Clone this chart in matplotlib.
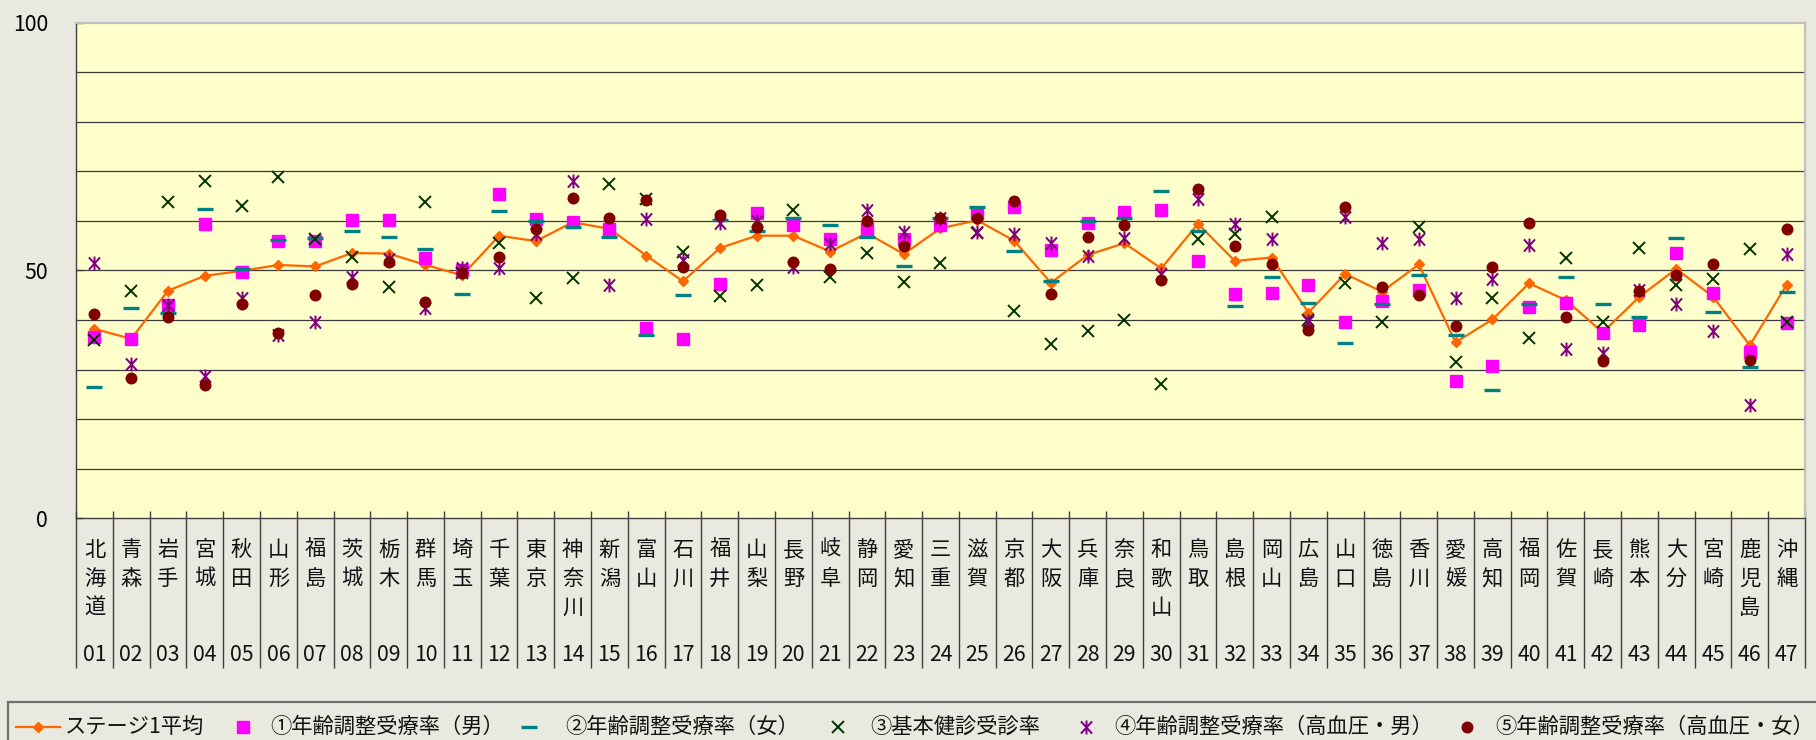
import numpy as np
import matplotlib
matplotlib.use("Agg")
import matplotlib.pyplot as plt
from matplotlib.lines import Line2D
from matplotlib.path import Path
from matplotlib.patches import Rectangle
import matplotlib.transforms as mtransforms

plt.rcParams['font.family'] = ['Noto Sans CJK JP', 'DejaVu Sans']

# ---------------- data ----------------
prefectures = ['北海道', '青森', '岩手', '宮城', '秋田', '山形', '福島', '茨城', '栃木', '群馬',
               '埼玉', '千葉', '東京', '神奈川', '新潟', '富山', '石川', '福井', '山梨', '長野',
               '岐阜', '静岡', '愛知', '三重', '滋賀', '京都', '大阪', '兵庫', '奈良', '和歌山',
               '鳥取', '島根', '岡山', '広島', '山口', '徳島', '香川', '愛媛', '高知', '福岡',
               '佐賀', '長崎', '熊本', '大分', '宮崎', '鹿児島', '沖縄']
codes = ['%02d' % (k + 1) for k in range(len(prefectures))]

stage1_avg = [38.2, 36.2, 45.9, 48.9, 49.9, 51.1, 50.8, 53.5, 53.4, 51.1,
              49.0, 57.0, 55.9, 59.7, 58.4, 53.0, 47.8, 54.5, 57.0, 57.0,
              53.8, 57.5, 53.3, 58.5, 60.1, 56.0, 47.5, 53.1, 55.5, 50.4,
              59.4, 51.9, 52.6, 41.5, 49.3, 45.7, 51.2, 35.5, 40.1, 47.4,
              44.0, 37.5, 44.7, 50.3, 44.7, 34.9, 47.1]
rate_male = [36.6, 36.2, 43.0, 59.3, 49.7, 55.9, 55.9, 60.1, 60.1, 52.6,
             50.0, 65.5, 60.4, 59.8, 58.4, 38.4, 36.2, 47.2, 61.6, 59.2,
             56.3, 58.3, 56.3, 59.2, 61.6, 62.7, 54.1, 59.5, 61.7, 62.2,
             51.9, 45.2, 45.5, 47.1, 39.6, 43.8, 46.0, 27.6, 30.8, 42.6,
             43.4, 37.4, 38.9, 53.6, 45.5, 33.5, 39.4]
rate_female = [26.5, 42.4, 41.4, 62.4, 50.3, 56.1, 56.5, 58.0, 56.8, 54.3,
               45.3, 62.0, 59.9, 58.7, 56.8, 36.9, 45.0, 60.2, 58.0, 60.5,
               59.1, 56.8, 50.9, 60.5, 62.8, 53.9, 47.9, 59.9, 60.5, 66.1,
               58.0, 42.8, 48.7, 43.5, 35.4, 43.2, 49.1, 36.9, 25.8, 43.2,
               48.7, 43.2, 40.6, 56.5, 41.6, 30.6, 45.7]
checkup_rate = [36.0, 45.9, 63.7, 68.1, 62.9, 68.9, 56.3, 52.7, 46.7, 63.7,
                49.5, 55.5, 44.5, 48.5, 67.4, 64.4, 53.8, 44.9, 47.0, 62.1,
                48.7, 53.6, 47.7, 51.4, 57.6, 41.8, 35.2, 37.8, 39.9, 27.1,
                56.3, 57.4, 60.7, 39.9, 47.4, 39.6, 58.7, 31.5, 44.5, 36.4,
                52.6, 39.6, 54.5, 47.0, 48.2, 54.4, 39.6]
htn_male = [51.5, 31.1, 43.0, 28.7, 44.5, 37.0, 39.6, 48.7, 52.2, 42.5,
            50.4, 50.4, 57.3, 68.1, 47.0, 60.3, 52.1, 59.5, 59.9, 50.7,
            55.3, 62.2, 57.8, 60.5, 57.8, 57.4, 55.6, 53.0, 56.6, 49.3,
            64.4, 59.4, 56.3, 39.8, 60.7, 55.5, 56.3, 44.5, 48.2, 55.1,
            34.1, 33.4, 46.0, 43.3, 37.8, 22.9, 53.3]
htn_female = [41.3, 28.3, 40.6, 26.9, 43.2, 37.3, 45.0, 47.3, 51.6, 43.6,
              49.5, 52.8, 58.4, 64.6, 60.5, 64.3, 50.6, 61.2, 58.7, 51.6,
              50.3, 59.9, 55.0, 60.5, 60.5, 63.9, 45.3, 56.8, 59.1, 48.0,
              66.5, 55.0, 51.3, 38.0, 62.8, 46.6, 45.0, 38.8, 50.6, 59.5,
              40.6, 31.7, 45.8, 49.1, 51.3, 32.0, 58.3]

series_labels = ['ステージ1平均', '①年齢調整受療率（男）', '②年齢調整受療率（女）',
                 '③基本健診受診率', '④年齢調整受療率（高血圧・男）', '⑤年齢調整受療率（高血圧・女）']
y_ticks = [0, 50, 100]

# ---------------- styling ----------------
W, H = 1816, 740
FIG_BG = '#E9E9DF'
PLOT_BG = '#FFFFCC'
FS = 15.3

star_path = Path([(-1, -1.1), (1, 1.1), (-1, 1.1), (1, -1.1), (0, -1.25), (0, 1.25)],
                 [Path.MOVETO, Path.LINETO, Path.MOVETO, Path.LINETO, Path.MOVETO, Path.LINETO])

styles = [
    dict(color='#FF6600', lw=1.6, marker='D', ms=4.8, mec='#FF6600', mfc='#FF6600'),
    dict(ls='none', marker='s', ms=8.0, color='#FF00FF', mec='#FF00FF'),
    dict(ls='none', marker='_', ms=11.5, mew=2.4, color='#008080'),
    dict(ls='none', marker='x', ms=8.4, mew=1.4, color='#003300'),
    dict(ls='none', marker=star_path, ms=10.0, mew=1.45, color='#800080'),
    dict(ls='none', marker='o', ms=7.6, color='#800000', mec='#800000'),
]

fig = plt.figure(figsize=(W / 100, H / 100), dpi=100, facecolor=FIG_BG)

left, right, top, bottom = 76, 1805, 22.5, 518.3
ax = fig.add_axes([left / W, (H - bottom) / H, (right - left) / W, (bottom - top) / H])
ax.set_facecolor(PLOT_BG)

n = len(prefectures)
x = np.arange(n)

for v in range(10, 100, 10):
    ax.axhline(v, color='#3a3a3a', lw=0.9, zorder=1)

all_series = [stage1_avg, rate_male, rate_female, checkup_rate, htn_male, htn_female]
for k, (vals, st) in enumerate(zip(all_series, styles)):
    ax.plot(x, vals, zorder=3 + k, clip_on=False, **st)

ax.set_xlim(-0.5, n - 0.5)
ax.set_ylim(0, 100)

# y axis
ax.set_yticks(y_ticks)
ax.set_yticklabels([str(v) for v in y_ticks], fontsize=FS)
ax.tick_params(axis='y', direction='in', length=5, width=1, color='#404040', pad=20)

# x axis: ticks at category boundaries
ax.set_xticks(np.arange(-0.5, n, 1.0))
ax.set_xticklabels([])
ax.tick_params(axis='x', direction='in', length=5, width=1, color='#404040')

for side in ['top', 'right']:
    ax.spines[side].set_color('#C0C0C0')
    ax.spines[side].set_linewidth(1.6)
for side in ['left', 'bottom']:
    ax.spines[side].set_color('#404040')
    ax.spines[side].set_linewidth(1.0)
ax.spines['bottom'].set_zorder(10)

# category labels (vertical stacked characters) + codes
ax_h = bottom - top
blend = mtransforms.blended_transform_factory(ax.transData, ax.transAxes)
sep_bottom = (bottom - 668) / ax_h
ax.vlines(np.arange(-0.5, n, 1.0), sep_bottom, 0, transform=blend, colors='#404040',
          lw=1.0, clip_on=False)
for i, (name, code) in enumerate(zip(prefectures, codes)):
    for j, ch in enumerate(name):
        yc = 550 + 29 * j
        ax.text(i, (bottom - yc) / ax_h, ch, transform=blend, ha='center', va='center',
                fontsize=FS, color='#111111')
    ax.text(i, (bottom - 655) / ax_h, code, transform=blend, ha='center', va='center',
            fontsize=FS, color='#111111')

# ---------------- legend (manual, figure pixel coords) ----------------
def fx(px):
    return px / W


def fy(py):
    return (H - py) / H


fig.add_artist(Rectangle((fx(8), fy(760)), fx(1830), fy(701.7) - fy(760),
                         transform=fig.transFigure, facecolor=FIG_BG, edgecolor='#707070',
                         lw=1.6, zorder=0))

ly = 726.7
handle_x = [38, 243, 529, 838, 1086, 1467]
text_x = [65, 270, 565, 870, 1114, 1495]
for k, (st, lab) in enumerate(zip(styles, series_labels)):
    if k == 0:
        fig.add_artist(Line2D([fx(16), fx(60)], [fy(ly), fy(ly)], transform=fig.transFigure,
                              color=st['color'], lw=st['lw']))
        fig.add_artist(Line2D([fx(handle_x[k])], [fy(ly)], transform=fig.transFigure,
                              ls='none', marker='D', ms=4.8, color=st['color']))
    else:
        fig.add_artist(Line2D([fx(handle_x[k])], [fy(ly)], transform=fig.transFigure, **st))
    fig.text(fx(text_x[k]), fy(ly), lab, ha='left', va='center', fontsize=FS, color='#111111')

fig.savefig('out.png', dpi=100, facecolor=FIG_BG)
